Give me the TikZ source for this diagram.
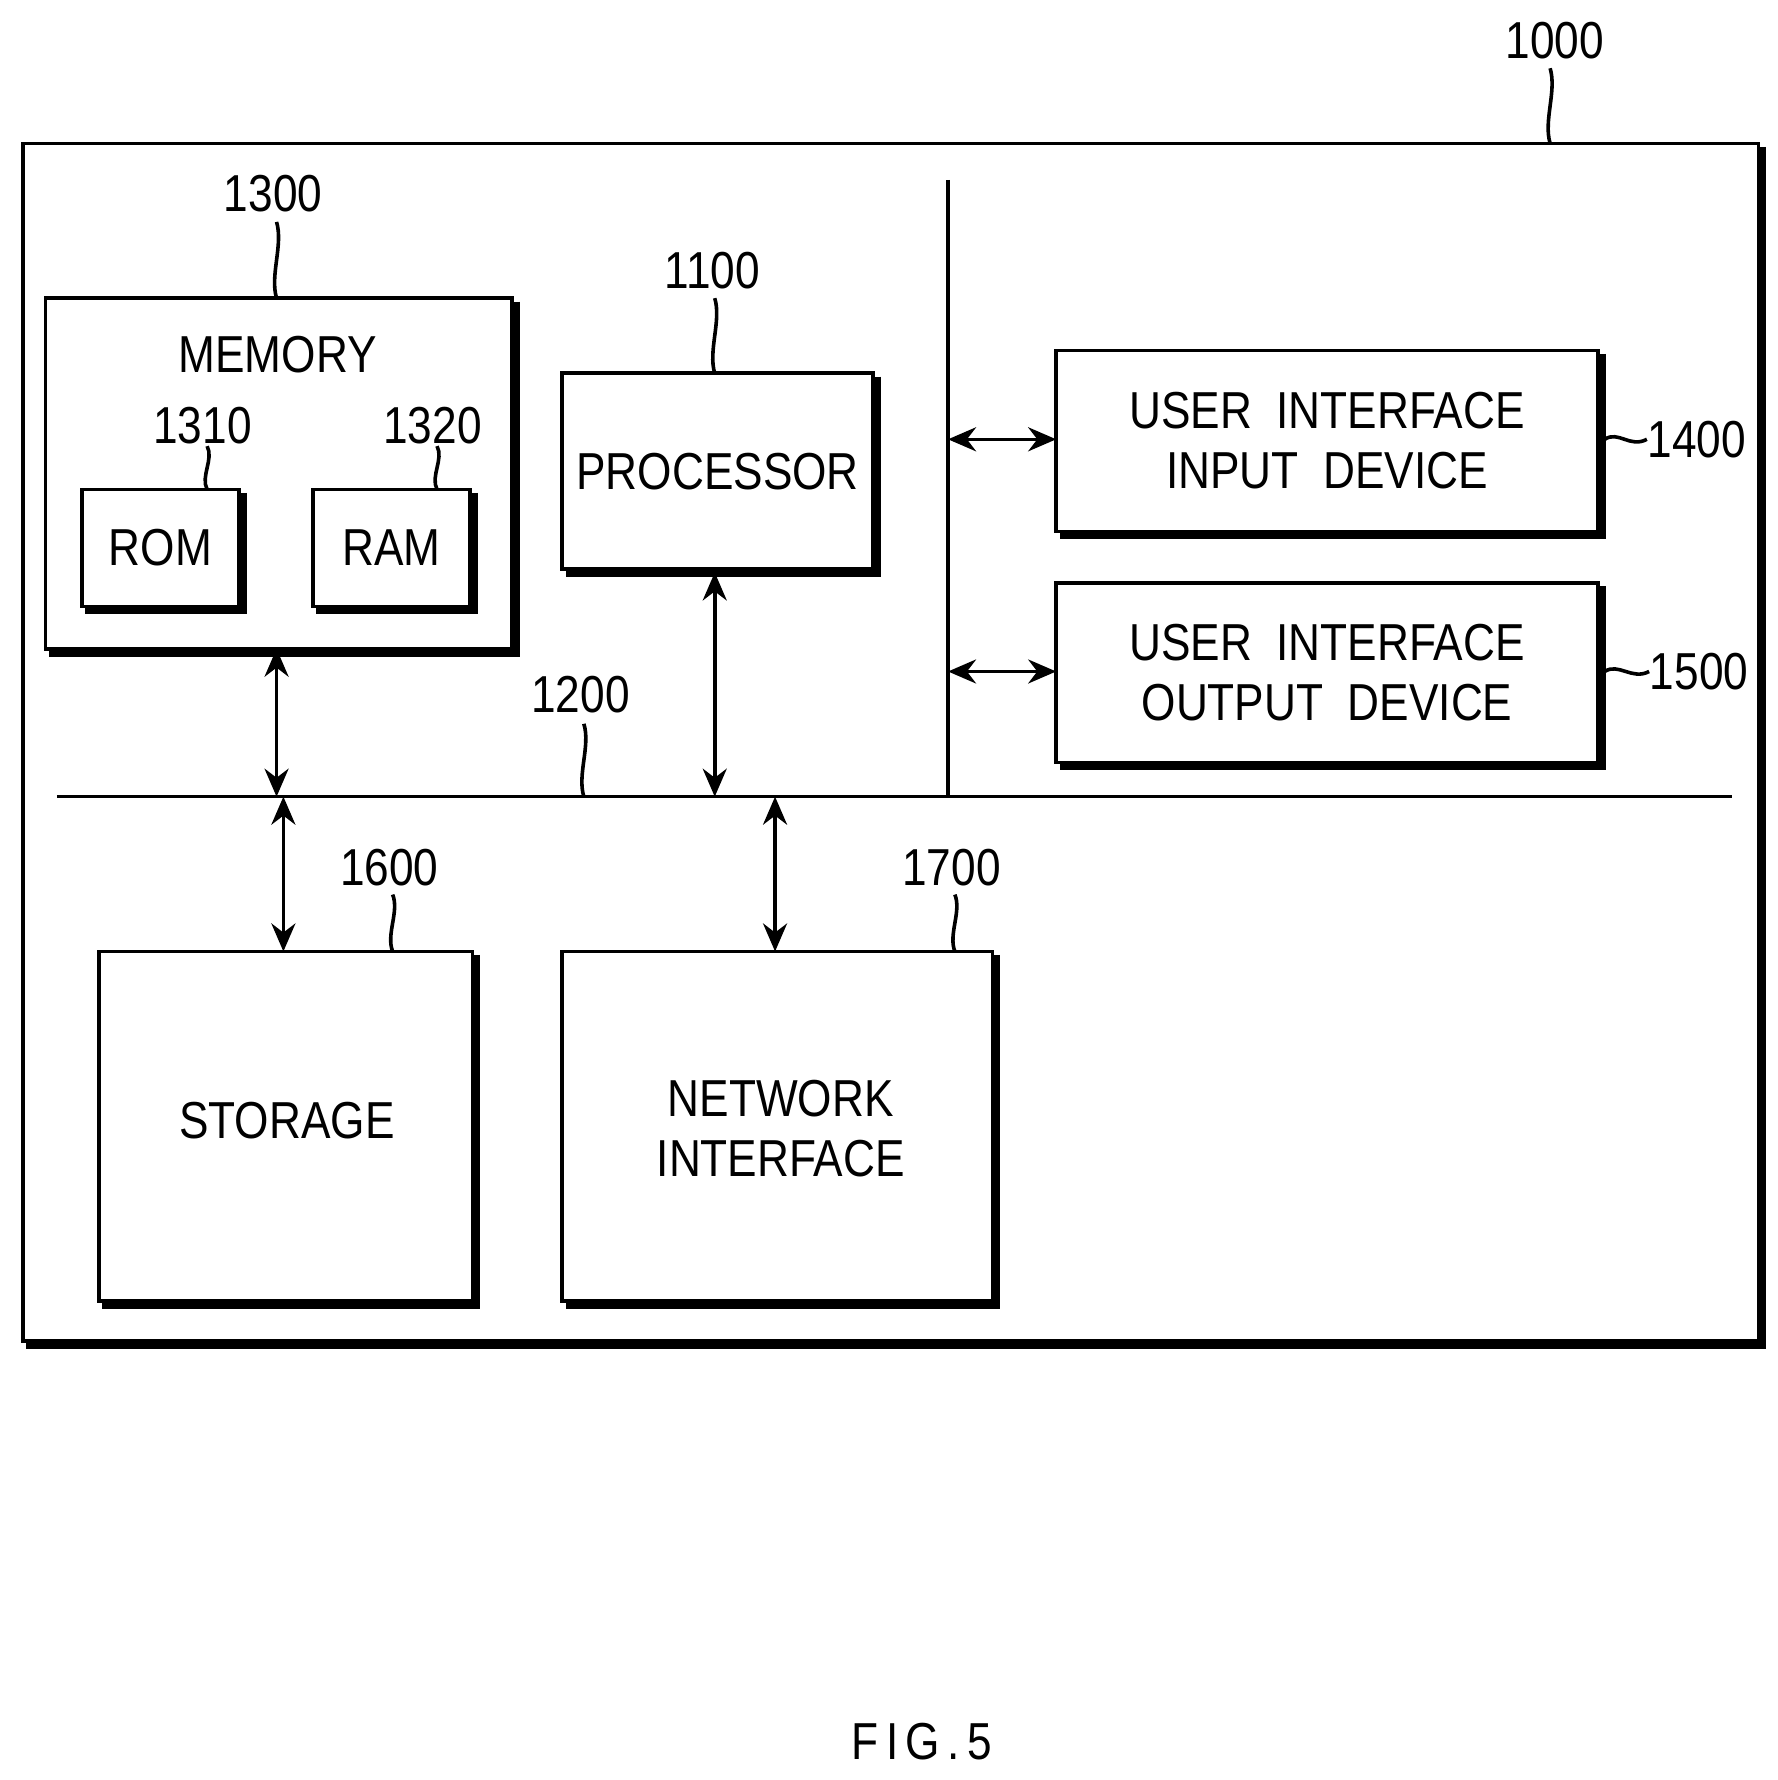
\documentclass[tikz,border=0pt]{standalone}
\usepackage{fontspec}
\setmainfont{Liberation Sans}
\usetikzlibrary{arrows.meta}
\begin{document}
\begin{tikzpicture}[x=0.1mm,y=-0.1mm,
 lw/.style={line width=0.9pt},
 txt/.style={font=\fontsize{13}{15}\selectfont, align=center, inner sep=0pt},
 num/.style={font=\fontsize{13}{15}\selectfont, inner sep=0pt},
 arr/.style={lw,{Stealth[length=7pt,width=6pt]}-{Stealth[length=7pt,width=6pt]}}]
\useasboundingbox (0,0) rectangle (1562,1564);
\newcommand{\shbox}[5]{% name,x1,y1,x2,y2
 \draw[lw] (#2,#3) rectangle (#4,#5);
 \draw[line width=2.2pt] (#4+3,#3+3) -- (#4+3,#5+3) -- (#2+3,#5+3);
 \coordinate (#1) at ({(#2+#4)/2},{(#3+#5)/2});}
\newcommand{\squig}[3]{\draw[lw] (#1,#2) .. controls (#1+6,{#2+0.3*(#3-#2)}) and (#1-6,{#2+0.7*(#3-#2)}) .. (#1,#3);}
% outer
\shbox{outer}{20}{126}{1545}{1178}
\node[num] (n1000) at (1366,36) {\scalebox{0.85}[1]{1000}};
\squig{1362}{60}{126}
% memory
\shbox{mem}{40}{262}{450}{570}
\node[txt] (memt) at (244,312) {\scalebox{0.85}[1]{MEMORY}};
\node[num] (n1300) at (240,170) {\scalebox{0.85}[1]{1300}};
\squig{243}{195}{262}
\shbox{rom}{72}{430}{210}{533}
\node[txt] at (rom) {\scalebox{0.85}[1]{ROM}};
\shbox{ram}{275}{430}{413}{533}
\node[txt] at (ram) {\scalebox{0.85}[1]{RAM}};
\node[num] (n1310) at (178,374) {\scalebox{0.85}[1]{1310}};
\squig{182}{392}{430}
\node[num] (n1320) at (380,374) {\scalebox{0.85}[1]{1320}};
\squig{384}{392}{430}
% processor
\shbox{proc}{494}{328}{767}{500}
\node[txt] at (proc) {\scalebox{0.85}[1]{PROCESSOR}};
\node[num] (n1100) at (626,238) {\scalebox{0.85}[1]{1100}};
\squig{628}{262}{328}
% buses
\coordinate (vt) at (833,158); \coordinate (vb) at (833,700);
\draw[lw] (vt) -- (vb);
\coordinate (bl) at (50,700); \coordinate (br) at (1522,700);
\draw[lw] (bl) -- (br);
\node[num] (n1200) at (510,610) {\scalebox{0.85}[1]{1200}};
\squig{513}{636}{700}
% UI boxes
\shbox{uin}{928}{308}{1404}{467}
\node[txt] at (uin) {\scalebox{0.85}[1]{USER\ \ INTERFACE}\\\scalebox{0.85}[1]{INPUT\ \ DEVICE}};
\shbox{uout}{928}{512}{1404}{670}
\node[txt] at (uout) {\scalebox{0.85}[1]{USER\ \ INTERFACE}\\\scalebox{0.85}[1]{OUTPUT\ \ DEVICE}};
\node[num,anchor=west] (n1400) at (1447,386) {\scalebox{0.85}[1]{1400}};
\draw[lw] (1410,386) .. controls (1422,378) and (1432,394) .. (1447,386);
\node[num,anchor=west] (n1500) at (1449,590) {\scalebox{0.85}[1]{1500}};
\draw[lw] (1410,590) .. controls (1422,582) and (1434,598) .. (1449,590);
\draw[arr] (833,386) -- (928,386);
\draw[arr] (833,590) -- (928,590);
% vertical arrows
\draw[arr] (243,570) -- (243,700);
\draw[arr] (628,503) -- (628,700);
% storage, network
\shbox{sto}{87}{836}{415}{1143}
\node[txt] at (252,985) {\scalebox{0.85}[1]{STORAGE}};
\shbox{net}{494}{836}{872}{1143}
\node[txt] at (686,992) {\scalebox{0.85}[1]{NETWORK}\\\scalebox{0.85}[1]{INTERFACE}};
\draw[arr] (249,700) -- (249,836);
\draw[arr] (681,700) -- (681,836);
\node[num] (n1600) at (342,762) {\scalebox{0.85}[1]{1600}};
\squig{345}{786}{836}
\node[num] (n1700) at (836,762) {\scalebox{0.85}[1]{1700}};
\squig{839}{786}{836}
\node[num] (fig) at (810,1530) {\scalebox{0.85}[1]{F\,I\,G\,.\,5}};
\end{tikzpicture}
\end{document}
